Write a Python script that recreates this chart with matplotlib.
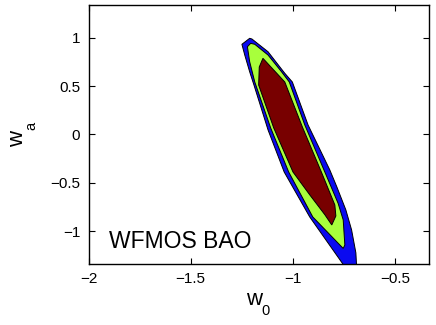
import numpy as np
import matplotlib
matplotlib.use('Agg')
import matplotlib.pyplot as plt

plt.rcParams['font.family'] = ['Liberation Sans', 'DejaVu Sans']

# contour outlines (w0, wa)
outer_w0 = [-1.211, -1.200, -1.121, -1.039, -1.002, -0.925, -0.819, -0.784, -0.740,
            -0.712, -0.691, -0.686, -0.740, -0.755, -0.917, -1.042, -1.121, -1.190,
            -1.211, -1.235, -1.249]
outer_wa = [0.994, 0.987, 0.855, 0.632, 0.542, 0.097, -0.366, -0.544, -0.782,
            -0.988, -1.226, -1.423, -1.423, -1.340, -0.854, -0.389, 0.046, 0.511,
            0.648, 0.821, 0.932]

mid_w0 = [-1.222, -1.206, -1.186, -1.121, -1.055, -1.017, -0.941, -0.843, -0.778,
          -0.753, -0.745, -0.753, -0.902, -1.020, -1.108, -1.186, -1.211]
mid_wa = [0.907, 0.942, 0.932, 0.821, 0.648, 0.542, 0.097, -0.389, -0.713,
          -0.885, -1.144, -1.180, -0.854, -0.389, 0.066, 0.542, 0.752]

inner_w0 = [-1.146, -1.039, -0.953, -0.860, -0.794, -0.789, -0.809, -0.843,
            -0.917, -0.999, -1.093, -1.167, -1.164]
inner_wa = [0.787, 0.542, 0.077, -0.389, -0.730, -0.844, -0.937, -0.831,
            -0.625, -0.389, 0.066, 0.511, 0.697]

fig = plt.figure(figsize=(4.36, 3.25), dpi=100)
ax = fig.add_axes([0.203, 0.188, 0.78, 0.797])

ax.fill(outer_w0, outer_wa, facecolor='#0a0af0', edgecolor='k', linewidth=0.7)
ax.fill(mid_w0, mid_wa, facecolor='#a8ff3c', edgecolor='k', linewidth=0.7)
ax.fill(inner_w0, inner_wa, facecolor='#780000', edgecolor='k', linewidth=0.7)

ax.text(-1.9, -1.175, 'WFMOS BAO', fontsize=16.5, ha='left', va='baseline')

ax.set_xlim([-2, -0.335])
ax.set_ylim([-1.34, 1.34])
ax.set_xticks([-2, -1.5, -1, -0.5])
ax.set_xticklabels(['\u22122', '\u22121.5', '\u22121', '\u22120.5'])
ax.set_yticks([-1, -0.5, 0, 0.5, 1])
ax.set_yticklabels(['\u22121', '\u22120.5', '0', '0.5', '1'])
ax.tick_params(direction='in', top=True, right=True, length=4, width=0.8,
               labelsize=11, pad=6)
for s in ax.spines.values():
    s.set_linewidth(1.0)

# axis labels with matlab-style subscripts
fig.text(0.564, 0.0615, 'w', fontsize=16, ha='left', va='baseline')
fig.text(0.600, 0.031, '0', fontsize=10.5, ha='left', va='baseline')
fig.text(0.0534, 0.5486, 'w', fontsize=16, rotation=90, rotation_mode='anchor',
         ha='left', va='baseline')
fig.text(0.0803, 0.600, 'a', fontsize=10.5, rotation=90, rotation_mode='anchor',
         ha='left', va='baseline')

plt.savefig('out.png', dpi=100)
